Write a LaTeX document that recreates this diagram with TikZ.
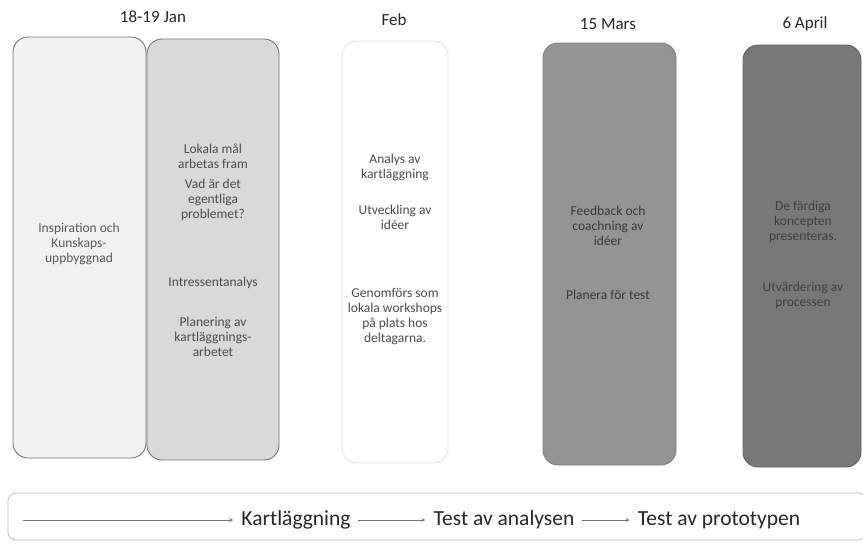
\documentclass[tikz,border=0pt]{standalone}
\usepackage{fontspec}
\setmainfont{Carlito}
\usetikzlibrary{positioning}
\tikzset{
	phase/.style={
		draw, rounded corners=15pt, line width=0.9pt, inner sep=0pt},
	boxtext/.style={
		align=center, font=\fontsize{13.5}{15}\selectfont},
	datetitle/.style={
		font=\fontsize{17}{20}\selectfont, text=black!85},
	flowarrow/.style={
		->, >=stealth, draw=black!55, line width=0.8pt, shorten >=1pt},
	flowtext/.style={
		font=\fontsize{21.5}{24}\selectfont, text=black!85, inner sep=7pt}
}

\begin{document}
\begin{tikzpicture}[x=1pt,y=1pt,yscale=-1,xscale=1]
\useasboundingbox (0,0) rectangle (863,547);

% columns
\node[phase, draw=black!55, fill=black!5, minimum width=133pt, minimum height=421pt] (jana) at (79.5,247.5) {};
\node[phase, draw=black!55, fill=black!15, minimum width=132pt, minimum height=421pt] (janb) at (213,249.5) {};
\node[phase, draw=black!12, fill=white, minimum width=106pt, minimum height=422pt] (feb) at (395,252) {};
\node[phase, draw=black!50, fill=black!42, minimum width=133pt, minimum height=422pt] (mars) at (609.5,254) {};
\node[phase, draw=black!62, fill=black!53, minimum width=118pt, minimum height=422pt] (april) at (802,256) {};

% dates
\node[datetitle] (tjan) at (153,17) {18-19 Jan};
\node[datetitle] (tfeb) at (394,20) {Feb};
\node[datetitle] (tmars) at (608,24) {15 Mars};
\node[datetitle] (tapril) at (805,24) {6 April};

% texts
\node[boxtext, text=black!65] (insp) at (79,244) {Inspiration och\\Kunskaps-\\uppbyggnad};

\node[boxtext, text=black!70] (lokala) at (213,156) {Lokala mål\\arbetas fram};
\node[boxtext, text=black!70] (vad) at (213,200) {Vad är det\\egentliga\\problemet?};
\node[boxtext, text=black!70] (intr) at (213,283) {Intressentanalys};
\node[boxtext, text=black!70] (plan) at (213,337) {Planering av\\kartläggnings-\\arbetet};

\node[boxtext, text=black!70] (analys) at (395,167) {Analys av\\kartläggning};
\node[boxtext, text=black!70] (utv) at (395,217) {Utveckling av\\idéer};
\node[boxtext, text=black!70] (genom) at (395,317) {Genomförs som\\lokala workshops\\på plats hos\\deltagarna.};

\node[boxtext, text=black!78] (feedb) at (608,226) {Feedback och\\coachning av\\idéer};
\node[boxtext, text=black!78] (planera) at (608,295) {Planera för test};

\node[boxtext, text=black!75] (fardiga) at (803,222) {De färdiga\\koncepten\\presenteras.};
\node[boxtext, text=black!75] (utvard) at (803,295) {Utvärdering av\\processen};

% flow strip
\node[draw=black!25, rounded corners=8pt, line width=0.8pt, minimum width=858pt, minimum height=47pt] (strip) at (437,516.5) {};
\coordinate (flowstart) at (23,520);
\node[flowtext] (kart) at (296,520) {Kartläggning};
\node[flowtext] (tana) at (504,520) {Test av analysen};
\node[flowtext] (tprot) at (719,520) {Test av prototypen};

\draw[flowarrow] (flowstart) -- (kart.west);
\draw[flowarrow] (kart.east) -- (tana.west);
\draw[flowarrow] (tana.east) -- (tprot.west);

\end{tikzpicture}
\end{document}
